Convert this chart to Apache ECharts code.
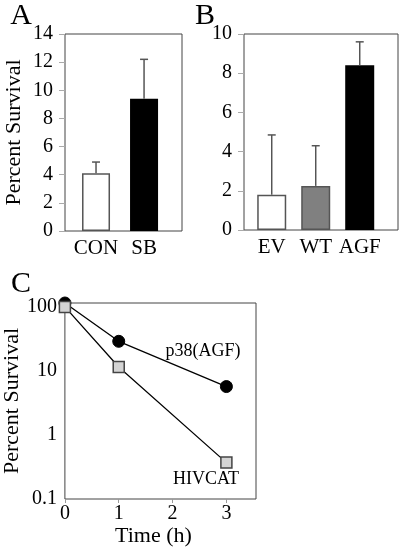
<!DOCTYPE html>
<html>
<head>
<meta charset="utf-8">
<script src="https://cdn.jsdelivr.net/npm/echarts@6/dist/echarts.min.js"></script>
<style>
html,body{margin:0;padding:0;background:#fff;}
#c{width:400px;height:554px;}
</style>
</head>
<body>
<div id="c"></div>
<script>
// Panel A
const catsA = ['CON', 'SB'];
const valsA = [4.1, 9.4];
const errA = [0.8, 2.8];
// Panel B
const catsB = ['EV', 'WT', 'AGF'];
const valsB = [1.8, 2.25, 8.4];
const errB = [3.05, 2.05, 1.2];
// Panel C
const timeC = [0, 1, 3];
const p38AGF = [115, 29, 5.7];
const hivcat = [100, 11.5, 0.37];
const yTicksC = [0.1, 1, 10, 100];
const xTicksC = [0, 1, 2, 3];

const FONT = 'Liberation Serif';
const barColorsA = ['#ffffff', '#000000'];
const barColorsB = ['#ffffff', '#808080', '#000000'];
const barBorderA = ['#555555', '#000000'];
const barBorderB = ['#555555', '#555555', '#000000'];

function errRender(params, api) {
  const x = api.value(0), y = api.value(1), u = api.value(2);
  const p0 = api.coord([x, y]);
  const p1 = api.coord([x, u]);
  const st = { stroke: '#555', lineWidth: 1.5 };
  return {
    type: 'group',
    children: [
      { type: 'line', shape: { x1: p0[0], y1: p0[1], x2: p1[0], y2: p1[1] }, style: st },
      { type: 'line', shape: { x1: p1[0] - 4, y1: p1[1], x2: p1[0] + 4, y2: p1[1] }, style: st }
    ]
  };
}

const gridStyle = { show: true, borderColor: '#444', borderWidth: 1, backgroundColor: 'transparent' };

const option = {
  animation: false,
  backgroundColor: '#fff',
  textStyle: { fontFamily: FONT },
  grid: [
    Object.assign({ left: 65, top: 34, width: 117, height: 197, containLabel: false }, gridStyle),
    Object.assign({ left: 244, top: 34, width: 154, height: 196, containLabel: false }, gridStyle),
    Object.assign({ left: 62, top: 303, width: 194, height: 196, containLabel: false }, gridStyle)
  ],
  xAxis: [
    {
      gridIndex: 0, type: 'value', min: -0.646, max: 1.79,
      splitLine: { show: false }, axisLine: { show: false, onZero: false }, axisTick: { show: false },
      axisLabel: {
        customValues: catsA.map((c, i) => i),
        formatter: v => catsA[Math.round(v)] || '',
        color: '#000', fontSize: 21, fontFamily: FONT, margin: 7
      }
    },
    {
      gridIndex: 1, type: 'value', min: -0.63, max: 2.87,
      splitLine: { show: false }, axisLine: { show: false, onZero: false }, axisTick: { show: false },
      axisLabel: {
        customValues: catsB.map((c, i) => i),
        formatter: v => catsB[Math.round(v)] || '',
        color: '#000', fontSize: 21, fontFamily: FONT, margin: 7
      }
    },
    {
      gridIndex: 2, type: 'value', min: 0, max: 3.55,
      splitLine: { show: false }, axisLine: { show: false, onZero: false },
      axisTick: { show: true, customValues: xTicksC, length: 4, lineStyle: { color: '#999' } },
      axisLabel: {
        customValues: xTicksC,
        color: '#000', fontSize: 20, fontFamily: FONT, margin: 5
      },
      name: 'Time (h)', nameLocation: 'middle', nameGap: 26,
      nameTextStyle: { color: '#000', fontSize: 22, fontFamily: FONT, padding: [0, 14, 0, 0] }
    }
  ],
  yAxis: [
    {
      gridIndex: 0, type: 'value', min: 0, max: 14, interval: 2,
      splitLine: { show: false }, axisLine: { show: false, onZero: false },
      axisTick: { show: true, length: 6, lineStyle: { color: '#aaa' } },
      axisLabel: { color: '#000', fontSize: 20, fontFamily: FONT, margin: 12 },
      name: 'Percent Survival', nameLocation: 'middle', nameGap: 40,
      nameTextStyle: { color: '#000', fontSize: 22, fontFamily: FONT }
    },
    {
      gridIndex: 1, type: 'value', min: 0, max: 10, interval: 2,
      splitLine: { show: false }, axisLine: { show: false, onZero: false },
      axisTick: { show: true, length: 6, lineStyle: { color: '#aaa' } },
      axisLabel: { color: '#000', fontSize: 20, fontFamily: FONT, margin: 12 }
    },
    {
      gridIndex: 2, type: 'log', logBase: 10, min: 0.1, max: 115,
      splitLine: { show: false }, axisLine: { show: false, onZero: false }, axisTick: { show: false },
      axisLabel: {
        color: '#000', fontSize: 20, fontFamily: FONT, margin: 8,
        formatter: v => {
          const t = yTicksC.find(k => Math.abs(Math.log10(v) - Math.log10(k)) < 1e-6);
          return t === undefined ? '' : String(t);
        }
      },
      name: 'Percent Survival', nameLocation: 'middle', nameGap: 37,
      nameTextStyle: { color: '#000', fontSize: 22, fontFamily: FONT }
    }
  ],
  series: [
    {
      type: 'bar', xAxisIndex: 0, yAxisIndex: 0, barWidth: 28,
      data: valsA.map((v, i) => ({
        value: [i, v],
        itemStyle: { color: barColorsA[i], borderColor: barBorderA[i], borderWidth: 1.5 }
      }))
    },
    {
      type: 'custom', xAxisIndex: 0, yAxisIndex: 0, renderItem: errRender,
      data: valsA.map((v, i) => [i, v, v + errA[i]]), z: 3
    },
    {
      type: 'bar', xAxisIndex: 1, yAxisIndex: 1, barWidth: 29,
      data: valsB.map((v, i) => ({
        value: [i, v],
        itemStyle: { color: barColorsB[i], borderColor: barBorderB[i], borderWidth: 1.5 }
      }))
    },
    {
      type: 'custom', xAxisIndex: 1, yAxisIndex: 1, renderItem: errRender,
      data: valsB.map((v, i) => [i, v, v + errB[i]]), z: 3
    },
    {
      type: 'line', xAxisIndex: 2, yAxisIndex: 2, clip: false,
      data: timeC.map((t, i) => [t, p38AGF[i]]),
      symbol: 'circle', symbolSize: 12,
      lineStyle: { color: '#000', width: 1.3 },
      itemStyle: { color: '#000', borderColor: '#000', borderWidth: 1 }
    },
    {
      type: 'line', xAxisIndex: 2, yAxisIndex: 2, clip: false,
      data: timeC.map((t, i) => [t, hivcat[i]]),
      symbol: 'rect', symbolSize: 11,
      lineStyle: { color: '#000', width: 1.3 },
      itemStyle: { color: '#d4d4d4', borderColor: '#444', borderWidth: 1.5 }
    }
  ],
  graphic: [
    { type: 'text', x: 21, y: 16, style: { text: 'A', font: '30px "Liberation Serif"', fill: '#000', align: 'center', verticalAlign: 'middle' } },
    { type: 'text', x: 205, y: 16, style: { text: 'B', font: '30px "Liberation Serif"', fill: '#000', align: 'center', verticalAlign: 'middle' } },
    { type: 'text', x: 21, y: 284, style: { text: 'C', font: '30px "Liberation Serif"', fill: '#000', align: 'center', verticalAlign: 'middle' } },
    { type: 'text', x: 203, y: 351, style: { text: 'p38(AGF)', font: '18px "Liberation Serif"', fill: '#000', align: 'center', verticalAlign: 'middle' } },
    { type: 'text', x: 206, y: 479, style: { text: 'HIVCAT', font: '18px "Liberation Serif"', fill: '#000', align: 'center', verticalAlign: 'middle' } }
  ]
};

const chart = echarts.init(document.getElementById('c'), null, { renderer: 'canvas' });
chart.setOption(option);
</script>
</body>
</html>
